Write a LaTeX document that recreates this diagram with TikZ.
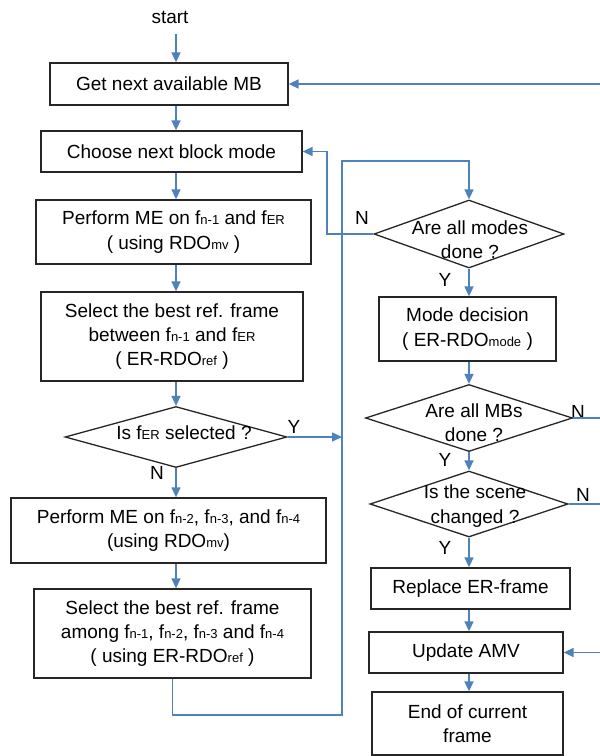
\documentclass[tikz,border=0pt]{standalone}
\usepackage{fontspec}
\setmainfont{Liberation Sans}
\usetikzlibrary{shapes.geometric,arrows.meta}
\definecolor{flowblue}{HTML}{4F81BD}
\newcommand{\sbs}[1]{{\fontsize{6.5}{7}\selectfont #1}}

\begin{document}
\begin{tikzpicture}[x=0.5pt,y=-0.5pt,>={Triangle[length=5pt,width=4.5pt]},
    font=\fontsize{9.5}{12.2}\selectfont,
    stepbox/.style={draw=black!85,line width=0.65pt,align=center,inner sep=0pt},
    decision/.style={diamond,draw=black!85,line width=0.65pt,inner sep=0pt},
    flow/.style={->,draw=flowblue,line width=0.75pt}]
\useasboundingbox (0,0) rectangle (600,756);
\clip (0,0) rectangle (600,756);
\coordinate (lcol) at (176,0);
\coordinate (rcol) at (469,0);
% left column
\node (start) at (170,17) {start};
\node[stepbox,minimum width=119pt,minimum height=21pt] (getmb) at (169,84) {Get next available MB};
\node[stepbox,minimum width=130.5pt,minimum height=20.5pt] (choose) at (171.5,151.5) {Choose next block mode};
\node[stepbox,minimum width=137.5pt,minimum height=32pt] (perf1) at (173.5,232)
    {Perform ME on f\sbs{n-1} and f\sbs{ER}\\( using RDO\sbs{mv} )};
\node[stepbox,minimum width=131pt,minimum height=44.5pt] (sel1) at (172,336.5)
    {Select the best ref. frame\\between f\sbs{n-1} and f\sbs{ER}\\( ER-RDO\sbs{ref} )};
\node[decision,minimum width=111pt,minimum height=30.5pt] (iser) at (176,437) {};
\node (isertxt) at (184,433) {Is f\sbs{ER} selected ?};
\node[stepbox,minimum width=157.5pt,minimum height=32.5pt] (perf2) at (168.5,530.5)
    {Perform ME on f\sbs{n-2}, f\sbs{n-3}, and f\sbs{n-4}\\(using RDO\sbs{mv})};
\node[stepbox,minimum width=138.5pt,minimum height=44.5pt] (sel2) at (172.5,633.5)
    {Select the best ref. frame\\among f\sbs{n-1}, f\sbs{n-2}, f\sbs{n-3} and f\sbs{n-4}\\( using ER-RDO\sbs{ref} )};
% right column
\node[decision,minimum width=95pt,minimum height=34pt] (modes) at (469,234) {};
\node[align=center] (modestxt) at (470,240) {Are all modes\\done ?};
\node[stepbox,minimum width=88.5pt,minimum height=32pt] (mdec) at (467.5,329)
    {Mode decision\\( ER-RDO\sbs{mode} )};
\node[decision,minimum width=103.5pt,minimum height=33.5pt] (allmb) at (469,418) {};
\node[align=center] (allmbtxt) at (474,423) {Are all MBs\\done ?};
\node[decision,minimum width=99pt,minimum height=33pt] (scene) at (469,504) {};
\node[align=center] (scenetxt) at (475,506) {Is the scene\\changed ?};
\node[stepbox,minimum width=99.5pt,minimum height=20.5pt] (repl) at (470.5,588.5) {Replace ER-frame};
\node[stepbox,minimum width=97pt,minimum height=20.5pt] (upd) at (466,652.5) {Update AMV};
\node[stepbox,minimum width=95.5pt,minimum height=31.5pt] (endf) at (467.5,723.5) {End of current\\frame};
% labels
\node (yer) at (294,427) {Y};
\node (ner) at (157,473) {N};
\node (nmodes) at (362,218) {N};
\node (ymodes) at (445,280) {Y};
\node (nmb) at (578,412) {N};
\node (ymb) at (445,460) {Y};
\node (nsc) at (583,495) {N};
\node (ysc) at (445,548) {Y};
% connectors
\draw[flow,shorten <=2pt] (start.south -| lcol) -- (getmb.north -| lcol);
\draw[flow] (getmb.south -| lcol) -- (choose.north -| lcol);
\draw[flow] (choose.south -| lcol) -- (perf1.north -| lcol);
\draw[flow] (perf1.south -| lcol) -- (sel1.north -| lcol);
\draw[flow] (sel1.south -| lcol) -- (iser.north);
\draw[flow] (iser.south) -- (perf2.north -| lcol);
\draw[flow] (perf2.south -| lcol) -- (sel2.north -| lcol);
\coordinate (busbot) at (342,715);
\coordinate (bustop) at (342,161);
\draw[flow] (sel2.south) |- (busbot) -- (bustop) -| (modes.north);
\draw[flow] (iser.east) -- (iser.east -| bustop);
\coordinate (nback) at (327,0);
\draw[flow] (modes.west) -| (nback |- choose.east) -- (choose.east);
\draw[flow] (modes.south) -- (mdec.north -| rcol);
\draw[flow] (mdec.south -| rcol) -- (allmb.north);
\draw[flow] (allmb.south) -- (scene.north);
\draw[flow] (scene.south) -- (repl.north -| rcol);
\draw[flow] (repl.south -| rcol) -- (upd.north -| rcol);
\draw[flow] (upd.south -| rcol) -- (endf.north -| rcol);
\coordinate (rbus) at (612,0);
\draw[flow] (allmb.east) -| (rbus |- getmb.east) -- (getmb.east);
\draw[flow] (scene.east) -| (rbus |- upd.east) -- (upd.east);
\end{tikzpicture}
\end{document}
